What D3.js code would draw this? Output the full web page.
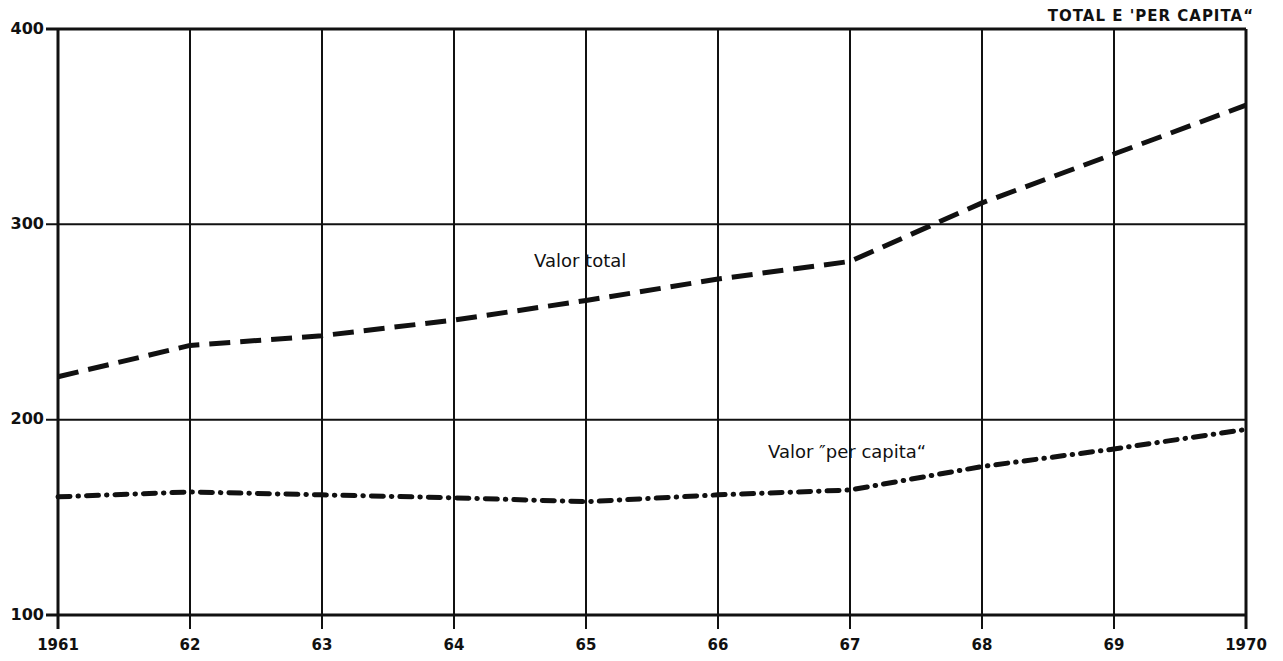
<!DOCTYPE html>
<html>
<head>
<meta charset="utf-8">
<script src="https://cdn.jsdelivr.net/npm/d3@7"></script>
<style>
  html, body { margin: 0; padding: 0; background: #fff; }
  svg { display: block; }
  text { font-family: "DejaVu Sans", "Liberation Sans", sans-serif; fill: #111; }
</style>
</head>
<body>
<svg id="chart" width="1283" height="661"></svg>
<script>
// ---- data ----
const years = [1961, 1962, 1963, 1964, 1965, 1966, 1967, 1968, 1969, 1970];
const yearLabels = ["1961", "62", "63", "64", "65", "66", "67", "68", "69", "1970"];
const valorTotal = [222, 238, 243, 251, 261, 272, 281, 311, 336, 361];
const valorPerCapita = [160.5, 163, 161.5, 160, 158, 161.5, 164, 176, 185, 195];
const yTicks = [100, 200, 300, 400];
const titleText = "TOTAL E 'PER CAPITA\u201C";
const labelTotal = "Valor total";
const labelPerCapita = "Valor \u2033per capita\u201C";

// ---- layout ----
const svg = d3.select("#chart");
const mLeft = 58, mRight = 1246, mTop = 29, mBottom = 615;

const x = d3.scaleLinear().domain([1961, 1970]).range([mLeft, mRight]);
const y = d3.scaleLinear().domain([100, 400]).range([mBottom, mTop]);

// grid lines
const g = svg.append("g");
g.selectAll("line.v").data(years).enter().append("line")
  .attr("x1", d => x(d)).attr("x2", d => x(d))
  .attr("y1", mTop).attr("y2", d => (d === 1961 || d === 1970) ? mBottom + 14 : mBottom + 14)
  .attr("stroke", "#111")
  .attr("stroke-width", d => (d === 1961 || d === 1970) ? 3 : 2);

g.selectAll("line.h").data(yTicks).enter().append("line")
  .attr("x1", mLeft - 12).attr("x2", mRight)
  .attr("y1", d => y(d)).attr("y2", d => y(d))
  .attr("stroke", "#111")
  .attr("stroke-width", d => (d === 100 || d === 400) ? 3 : 2);

// y labels
svg.append("g").selectAll("text").data(yTicks).enter().append("text")
  .attr("x", mLeft - 14).attr("y", d => y(d) - 1)
  .attr("text-anchor", "end").attr("dominant-baseline", "central")
  .attr("font-size", 16).attr("font-weight", "bold")
  .text(d => d);

// x labels
svg.append("g").selectAll("text").data(years).enter().append("text")
  .attr("x", d => x(d)).attr("y", 645)
  .attr("text-anchor", "middle").attr("dominant-baseline", "central")
  .attr("font-size", 15).attr("font-weight", "bold")
  .text((d, i) => yearLabels[i]);

// title
svg.append("text")
  .attr("x", 1254).attr("y", 16)
  .attr("text-anchor", "end").attr("dominant-baseline", "central")
  .attr("font-size", 15).attr("font-weight", "bold").attr("letter-spacing", 1)
  .text(titleText);

// lines
const line = d3.line().x((d, i) => x(years[i])).y(d => y(d));

svg.append("path").datum(valorTotal)
  .attr("d", line)
  .attr("fill", "none").attr("stroke", "#111")
  .attr("stroke-width", 5)
  .attr("stroke-dasharray", "21 10");

svg.append("path").datum(valorPerCapita)
  .attr("d", line)
  .attr("fill", "none").attr("stroke", "#111")
  .attr("stroke-width", 5).attr("stroke-linecap", "round")
  .attr("stroke-dasharray", "12 8 0.5 8");

// series labels
svg.append("text")
  .attr("x", 534).attr("y", 260)
  .attr("dominant-baseline", "central")
  .attr("font-size", 18)
  .text(labelTotal);

svg.append("text")
  .attr("x", 768).attr("y", 451)
  .attr("dominant-baseline", "central")
  .attr("font-size", 18)
  .text(labelPerCapita);
</script>
</body>
</html>
